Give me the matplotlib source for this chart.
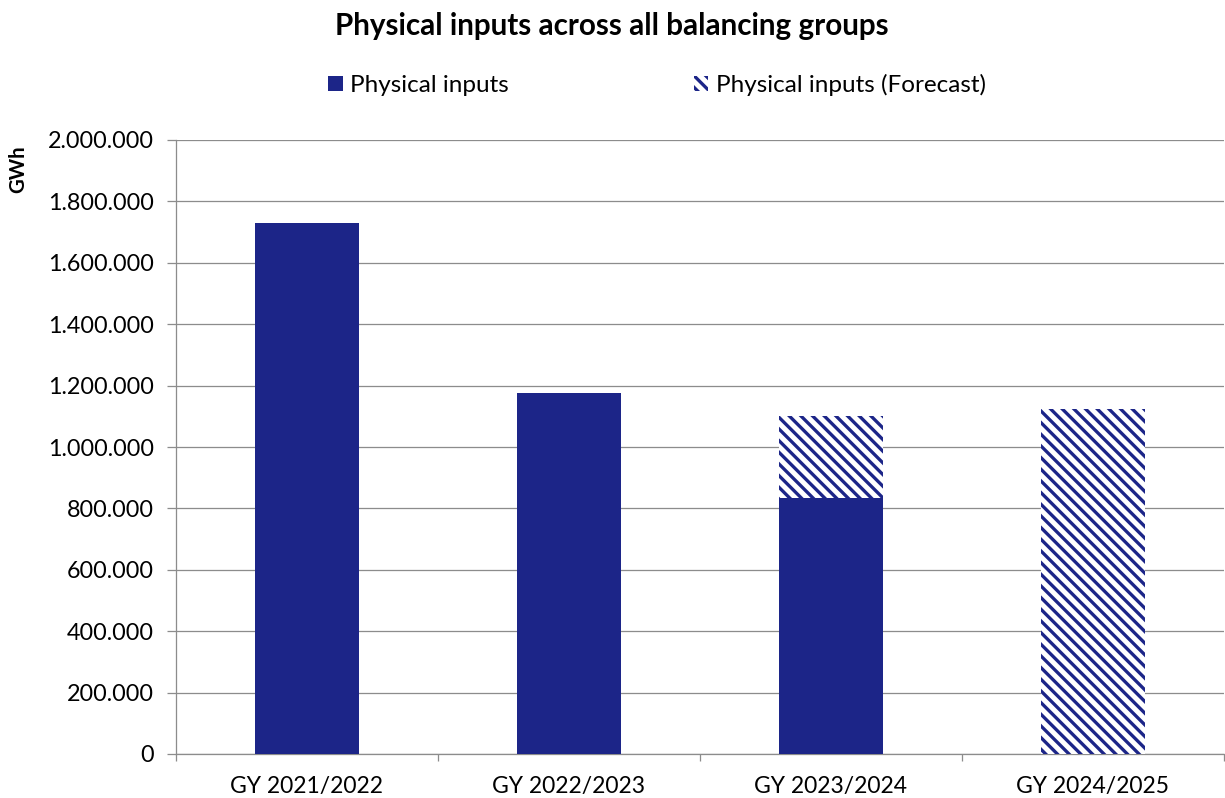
import matplotlib
matplotlib.use("Agg")
import matplotlib.pyplot as plt
from matplotlib.ticker import FuncFormatter, FixedLocator
import numpy as np

NAVY = "#1c2588"
GRID = "#8c8c8c"

categories = ["GY 2021/2022", "GY 2022/2023", "GY 2023/2024", "GY 2024/2025"]
actual = [1730000, 1176000, 834000, 0]          # GWh, measured
forecast_extra = [0, 0, 267000, 1124000]        # GWh, forecast on top of actual

plt.rcParams["font.family"] = ["Lato", "DejaVu Sans"]
plt.rcParams["hatch.linewidth"] = 3.4
plt.rcParams["hatch.color"] = NAVY

DPI = 70
fig = plt.figure(figsize=(1225 / DPI, 798 / DPI), dpi=DPI)
ax = fig.add_axes([176 / 1225, 1 - 754 / 798, 1048 / 1225, 614 / 798])

x = np.arange(len(categories))
ax.bar(x, actual, width=0.4, color=NAVY, linewidth=0, label="Physical inputs", zorder=3)
ax.bar(x, forecast_extra, width=0.4, bottom=actual, facecolor="white",
       edgecolor=NAVY, linewidth=0, hatch="\\\\", label="Physical inputs (Forecast)", zorder=3)

ax.set_xlim(-0.5, len(categories) - 0.5)
ax.set_ylim(0, 2000000)
ax.set_yticks(np.arange(0, 2000001, 200000))
ax.yaxis.set_major_formatter(FuncFormatter(lambda v, p: f"{int(v):,}".replace(",", ".")))
ax.grid(axis="y", color=GRID, linewidth=1.3, zorder=0)

ax.set_xticks(x)
ax.set_xticklabels(categories)
ax.xaxis.set_minor_locator(FixedLocator(np.arange(-0.5, len(categories), 1.0)))
ax.tick_params(axis="x", which="major", length=0, pad=23, labelsize=23.5)
ax.tick_params(axis="x", which="minor", length=7, width=1.3, color=GRID)
ax.tick_params(axis="y", length=9, width=1.3, color=GRID, labelsize=24, pad=14)

for s in ["top", "right"]:
    ax.spines[s].set_visible(False)
for s in ["left", "bottom"]:
    ax.spines[s].set_color(GRID)
    ax.spines[s].set_linewidth(1.3)

ax.set_ylabel("GWh", fontsize=21, fontweight="bold")
ax.yaxis.set_label_coords(-0.141, 0.953)

fig.suptitle("Physical inputs across all balancing groups", fontsize=30.5,
             fontweight="bold", x=612 / 1225, y=1 - 26 / 798, va="center")

fig.legend(loc="center", bbox_to_anchor=(657 / 1225, 1 - 85 / 798), ncol=2,
           frameon=False, fontsize=25, handlelength=0.6, handleheight=0.6,
           handletextpad=0.3, columnspacing=7.6)

fig.savefig("out.png", dpi=DPI)
